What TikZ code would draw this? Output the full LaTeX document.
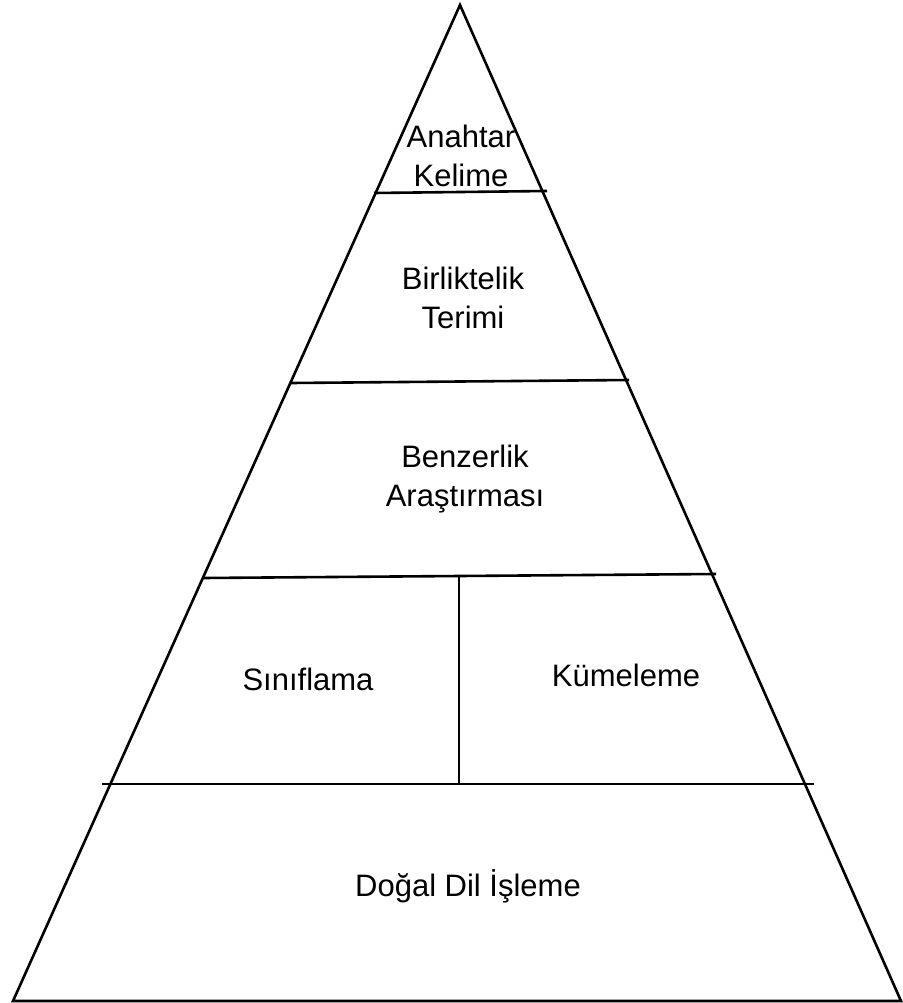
\documentclass[tikz,border=0pt]{standalone}
\usepackage{fontspec}
\setmainfont{Liberation Sans}
\begin{document}
\begin{tikzpicture}[x=1pt,y=-1pt,
  edge/.style={line width=2.6pt,black},
  lbl/.style={anchor=base,align=center,inner sep=0pt,font=\fontsize{31}{39}\selectfont}]
\useasboundingbox (0,0) rectangle (902,1003);
\coordinate (apex) at (460,5);
\coordinate (bl) at (13,1001);
\coordinate (br) at (901,1001);
\draw[edge,line join=miter] (apex) -- (br) -- (bl) -- cycle;
\coordinate (l1a) at (374,193); \coordinate (l1b) at (547,191);
\coordinate (l2a) at (291,383); \coordinate (l2b) at (629,380);
\coordinate (l3a) at (203,578); \coordinate (l3b) at (716,574);
\coordinate (l4a) at (102,784); \coordinate (l4b) at (814,784);
\coordinate (va) at (459,576); \coordinate (vb) at (459,784);
\draw[edge] (l1a) -- (l1b);
\draw[edge] (l2a) -- (l2b);
\draw[edge] (l3a) -- (l3b);
\draw[edge] (l4a) -- (l4b);
\draw[edge] (va) -- (vb);
\node[lbl] (t1) at (461,186) {Anahtar\\Kelime};
\node[lbl] (t2) at (463,328) {Birliktelik\\Terimi};
\node[lbl] (t3) at (465,506) {Benzerlik\\Araştırması};
\node[lbl] (t4) at (308,690) {Sınıflama};
\node[lbl] (t5) at (626,686) {Kümeleme};
\node[lbl] (t6) at (468,896) {Doğal Dil İşleme};
\end{tikzpicture}
\end{document}
